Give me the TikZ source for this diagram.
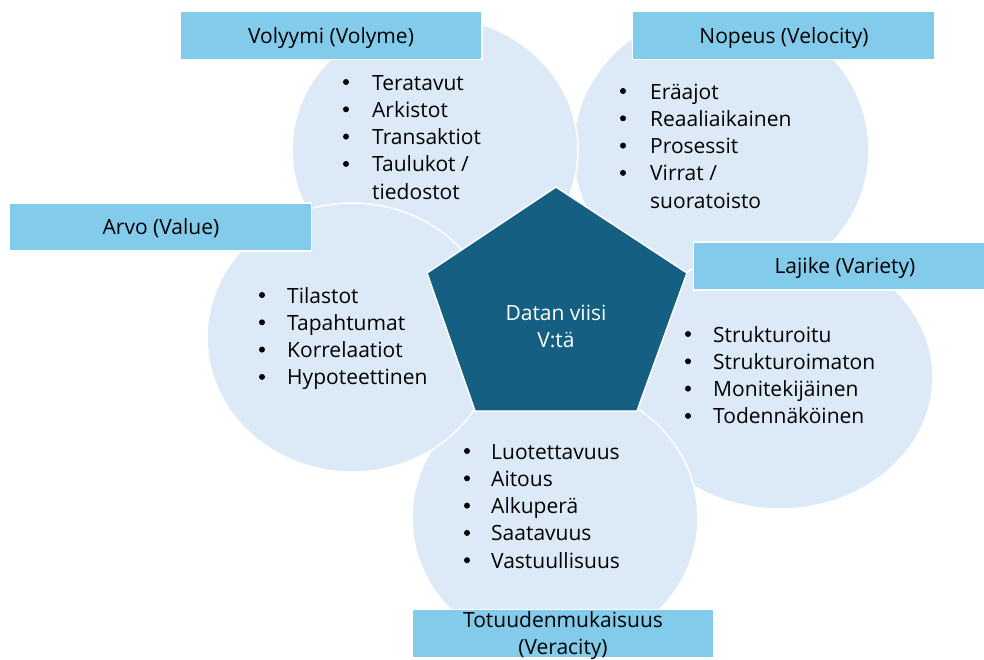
\documentclass[tikz,border=0pt]{standalone}
\usepackage{fontspec}
\setmainfont{Open Sans}
\definecolor{circ}{HTML}{DCEAF7}
\definecolor{pent}{HTML}{156082}
\definecolor{lab}{HTML}{83CBEB}
\begin{document}
\begin{tikzpicture}[x=1pt,y=-1pt,
  bub/.style={fill=circ, draw=white, line width=1.5pt},
  pentstyle/.style={fill=pent, draw=white, line width=1.5pt},
  lbl/.style={fill=lab, draw=white, line width=1.5pt, minimum width=302pt, minimum height=48pt, inner sep=0pt},
  txt/.style={inner sep=0pt, font=\fontsize{21}{27.3}\selectfont, text=black},
  item/.style={txt, anchor=base west},
  bul/.style={circle, fill=black, inner sep=0pt, minimum size=6pt},
  head/.style={txt, anchor=base}]
\useasboundingbox (0,0) rectangle (984,659);
\clip (0,0) rectangle (984,659);
% bubbles (stacking order)
\path[bub] (721,150) ellipse[x radius=148pt, y radius=140pt];
\path[bub] (780,377) ellipse[x radius=153pt, y radius=132pt];
\path[bub] (435,150) ellipse[x radius=143pt, y radius=133pt];
\path[bub] (555,518) ellipse[x radius=143pt, y radius=134pt];
\path[bub] (352,337.5) ellipse[x radius=145pt, y radius=134.5pt];
% pentagon
\path[pentstyle] (556,187) -- (687,273) -- (637,411) -- (475,411) -- (427,273) -- cycle;
\node[head, text=white] (core1) at (556,320) {Datan viisi};
\node[head, text=white] (core2) at (556,347) {V:tä};
% label boxes
\node[lbl] (volL) at (331,35.5) {};
\node[lbl] (velL) at (783.5,35.5) {};
\node[lbl] (valL) at (160.5,227) {};
\node[lbl] (varL) at (844.5,266) {};
\node[lbl] (verL) at (563,633.5) {};
\node[head] (volT) at (331,43) {Volyymi (Volyme)};
\node[head] (velT) at (784,43) {Nopeus (Velocity)};
\node[head] (valT) at (161,234) {Arvo (Value)};
\node[head] (varT) at (845,273) {Lajike (Variety)};
\node[head] (verT1) at (563,627) {Totuudenmukaisuus};
\node[head] (verT2) at (563,654) {(Veracity)};
% Volume list
\node[bul] (vob1) at (346,82) {};    \node[item] (vo1) at (372,90) {Teratavut};
\node[bul] (vob2) at (346,109.3) {}; \node[item] (vo2) at (372,117.3) {Arkistot};
\node[bul] (vob3) at (346,136.6) {}; \node[item] (vo3) at (372,144.6) {Transaktiot};
\node[bul] (vob4) at (346,163.9) {}; \node[item] (vo4) at (372,171.9) {Taulukot /};
\node[item] (vo5) at (372,199.2) {tiedostot};
% Velocity list
\node[bul] (veb1) at (623,91) {};    \node[item] (ve1) at (650,99) {Eräajot};
\node[bul] (veb2) at (623,118.3) {}; \node[item] (ve2) at (650,126.3) {Reaaliaikainen};
\node[bul] (veb3) at (623,145.6) {}; \node[item] (ve3) at (650,153.6) {Prosessit};
\node[bul] (veb4) at (623,172.9) {}; \node[item] (ve4) at (650,180.9) {Virrat /};
\node[item] (ve5) at (650,208.2) {suoratoisto};
% Value list
\node[bul] (vab1) at (262,295) {};   \node[item] (va1) at (287,303) {Tilastot};
\node[bul] (vab2) at (262,322.3) {}; \node[item] (va2) at (287,330.3) {Tapahtumat};
\node[bul] (vab3) at (262,349.6) {}; \node[item] (va3) at (287,357.6) {Korrelaatiot};
\node[bul] (vab4) at (262,376.9) {}; \node[item] (va4) at (287,384.9) {Hypoteettinen};
% Variety list
\node[bul] (vrb1) at (688,334) {};   \node[item] (vr1) at (713,342) {Strukturoitu};
\node[bul] (vrb2) at (688,361.3) {}; \node[item] (vr2) at (713,369.3) {Strukturoimaton};
\node[bul] (vrb3) at (688,388.6) {}; \node[item] (vr3) at (713,396.6) {Monitekijäinen};
\node[bul] (vrb4) at (688,415.9) {}; \node[item] (vr4) at (713,423.9) {Todennäköinen};
% Veracity list
\node[bul] (ceb1) at (467,451) {};   \node[item] (ce1) at (491,459) {Luotettavuus};
\node[bul] (ceb2) at (467,478.3) {}; \node[item] (ce2) at (491,486.3) {Aitous};
\node[bul] (ceb3) at (467,505.6) {}; \node[item] (ce3) at (491,513.6) {Alkuperä};
\node[bul] (ceb4) at (467,532.9) {}; \node[item] (ce4) at (491,540.9) {Saatavuus};
\node[bul] (ceb5) at (467,560.2) {}; \node[item] (ce5) at (491,568.2) {Vastuullisuus};
\end{tikzpicture}
\end{document}
